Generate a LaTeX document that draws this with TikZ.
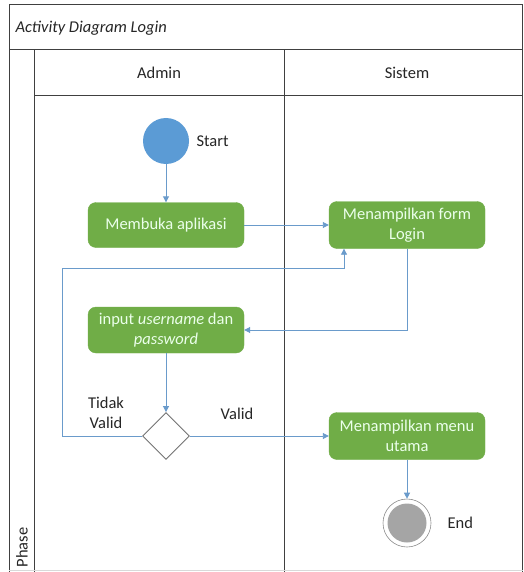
\documentclass[tikz,border=0pt]{standalone}
\usepackage{fontspec}
\setmainfont{Carlito}
\usetikzlibrary{shapes.geometric,arrows.meta}
\definecolor{boxgreen}{HTML}{70AD47}
\definecolor{startblue}{HTML}{5B9BD5}
\definecolor{arrowblue}{HTML}{6A9BCB}
\definecolor{endgray}{HTML}{A5A5A5}
\definecolor{framegray}{HTML}{404040}
\tikzset{
  actbox/.style={draw=boxgreen, fill=boxgreen, rounded corners=8pt, minimum width=156pt, minimum height=45pt, text=white!92!green, align=center, font=\fontsize{16.5}{19.5}\selectfont, inner sep=2pt},
  flow/.style={draw=arrowblue, line width=0.9pt, -{Triangle[length=6pt,width=6pt]}},
  lbl/.style={font=\fontsize{16.5}{19.5}\selectfont, text=black!85, align=center},
  frame/.style={draw=framegray, line width=1pt}
}
\begin{document}
\begin{tikzpicture}[x=1pt,y=-1pt]
\useasboundingbox (0,0) rectangle (523,572);
\fill[white] (0,0) rectangle (523,572);
% frame
\draw[frame] (9,572) -- (9,5) -- (523,5);
\draw[frame] (522,5) -- (522,572);
\draw[frame] (9,50) -- (523,50);
\draw[frame] (34,50) -- (34,572);
\draw[frame] (34,96) -- (523,96);
\draw[frame] (284,50) -- (284,572);
\draw[draw=black!15] (9,570) -- (523,570);
\node[lbl, anchor=west, font=\fontsize{16.5}{19.5}\selectfont\itshape] (title) at (12,28) {Activity Diagram Login};
\node[lbl] (admin) at (159,73) {Admin};
\node[lbl] (sistem) at (407,73) {Sistem};
\node[lbl, rotate=90, anchor=west] (phase) at (22,571) {Phase};
% nodes
\node[circle, fill=startblue, minimum size=46pt, inner sep=0pt] (start) at (166,141) {};
\node[lbl, anchor=west] (startl) at (193,141) {Start};
\node[actbox] (buka) at (166,225) {Membuka aplikasi};
\node[actbox, minimum height=47pt] (form) at (407,225) {Menampilkan form\\Login};
\node[actbox, minimum height=46pt] (input) at (166,330) {input \textit{username} dan\\\textit{password}};
\node[diamond, draw=black!55, fill=white, line width=0.9pt, minimum width=47pt, minimum height=47pt, inner sep=0pt] (dec) at (166,436) {};
\node[actbox, minimum height=47pt] (menu) at (407,436) {Menampilkan menu\\utama};
\node[circle, draw=black!45, fill=white, minimum size=48pt, inner sep=0pt, line width=0.6pt] (end) at (407,523) {};
\node[circle, fill=endgray, minimum size=39pt, inner sep=0pt] (endin) at (end) {};
\node[lbl, anchor=west] (endl) at (444,523) {End};
\node[lbl] (tidak) at (106,413) {Tidak\\Valid};
\node[lbl] (valid) at (237,414) {Valid};
\coordinate (c1) at (62,436);
\coordinate (c2) at (62,268);
\coordinate (c3) at (344,268);
% connectors
\draw[flow] (start) -- (buka);
\draw[flow] (buka) -- (form);
\draw[flow] (form.south) |- (input.east);
\draw[flow] (input) -- (dec.north);
\draw[flow] (dec.west) -- (c1) -- (c2) -- (c3) -- (c3 |- form.south);
\draw[flow] (dec.east) -- (menu.west);
\draw[flow] (menu) -- (end.north);
\end{tikzpicture}
\end{document}
